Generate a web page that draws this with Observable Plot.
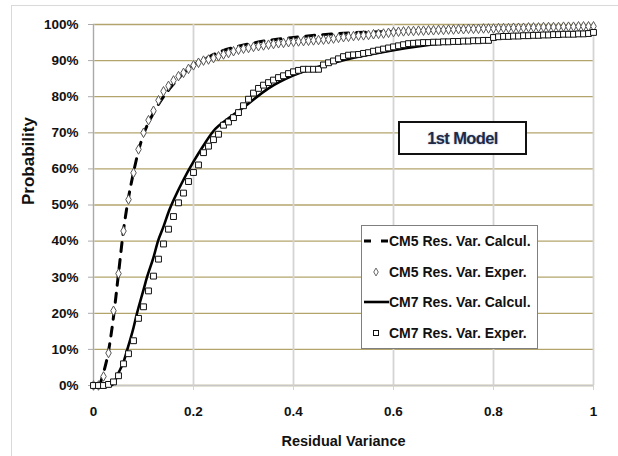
<!DOCTYPE html>
<html>
<head>
<meta charset="utf-8">
<script src="https://cdn.jsdelivr.net/npm/d3@7"></script>
<script src="https://cdn.jsdelivr.net/npm/@observablehq/plot@0.6"></script>
<style>
  html, body { margin: 0; padding: 0; background: #fff; }
  #wrap { position: relative; width: 618px; height: 456px; overflow: hidden; font-family: "Liberation Sans", Arial, sans-serif; }
  #frame { position: absolute; left: 11px; top: 5px; width: 640px; height: 500px; border: 1.5px solid #d9d9d9; pointer-events: none; }
  #model { position: absolute; left: 398px; top: 121px; width: 125px; height: 30px; border: 2.5px solid #111; background: #fff;
           font-weight: bold; font-size: 16.5px; color: #1d2a48; text-align: center; line-height: 30px; letter-spacing: -0.6px;
           text-shadow: 0 0 2px #a8b8d0; }
  #legend { position: absolute; left: 361px; top: 225px; }
</style>
</head>
<body>
<div id="wrap">
  <div id="chart"></div>
  <div id="model">1st Model</div>
  <div id="legend"></div>
  <div id="frame"></div>
</div>
<script>
// ---- data ----
const xTicks = [0, 0.2, 0.4, 0.6, 0.8, 1];
const yTicks = [0, 10, 20, 30, 40, 50, 60, 70, 80, 90, 100];
const seriesNames = ["CM5 Res. Var. Calcul.", "CM5 Res. Var. Exper.", "CM7 Res. Var. Calcul.", "CM7 Res. Var. Exper."];
const modelLabel = "1st Model";
const xLabel = "Residual Variance";
const yLabel = "Probability";

const expX = [0,0.01,0.02,0.03,0.04,0.05,0.06,0.07,0.08,0.09,
  0.10,0.11,0.12,0.13,0.14,0.15,0.16,0.17,0.18,0.19,
  0.20,0.21,0.22,0.23,0.24,0.25,0.26,0.27,0.28,0.29,
  0.30,0.31,0.32,0.33,0.34,0.35,0.36,0.37,0.38,0.39,
  0.40,0.41,0.42,0.43,0.44,0.45,0.46,0.47,0.48,0.49,
  0.50,0.51,0.52,0.53,0.54,0.55,0.56,0.57,0.58,0.59,
  0.60,0.61,0.62,0.63,0.64,0.65,0.66,0.67,0.68,0.69,
  0.70,0.71,0.72,0.73,0.74,0.75,0.76,0.77,0.78,0.79,
  0.80,0.81,0.82,0.83,0.84,0.85,0.86,0.87,0.88,0.89,
  0.90,0.91,0.92,0.93,0.94,0.95,0.96,0.97,0.98,0.99,
  1.00];

const cm5Exper = [0,0,2.5,9,20.7,31,42.8,51.5,58.9,65.4,
  70,73.5,76.1,79,81.5,83,84.5,85.7,86.6,87.7,
  88.7,89.4,90,90.3,90.7,91.2,91.7,92.1,92.6,93,
  93.3,93.5,93.8,94,94.2,94.4,94.6,94.8,94.9,95.1,
  95.2,95.3,95.4,95.5,95.6,95.7,95.8,95.9,96.1,96.3,
  96.5,96.6,96.8,96.9,97.0,97.1,97.3,97.4,97.5,97.7,
  97.9,98.0,98.1,98.2,98.2,98.3,98.3,98.4,98.4,98.5,
  98.5,98.6,98.6,98.7,98.7,98.8,98.8,98.8,98.9,98.9,
  98.9,99.0,99.0,99.0,99.1,99.1,99.1,99.2,99.2,99.2,
  99.3,99.3,99.3,99.3,99.4,99.4,99.4,99.5,99.5,99.5,
  99.5];

const cm7Exper = [0,0,0,0.3,1,2.7,6,8.8,12.4,18.6,
  21.8,26.2,30.3,35,39.2,43.3,46.8,50.6,53.3,56.5,
  59,61.1,64.5,66.3,68.1,69.6,72.1,73,74.2,75.6,
  77.5,79.3,81,82.3,83.2,83.9,84.6,85.3,85.8,86.4,
  86.9,87.3,87.6,87.6,87.6,87.6,88.8,89.4,89.9,90.5,
  91.1,91.5,91.6,91.7,92,92.2,92.6,92.9,93.2,93.5,
  93.8,94.1,94.4,94.7,94.8,94.9,95,95,95.1,95.1,
  95.2,95.2,95.3,95.3,95.4,95.4,95.5,95.5,95.6,95.6,
  96.4,96.6,96.7,96.7,96.8,96.8,96.9,96.9,97,97,
  97.1,97.1,97.2,97.2,97.3,97.3,97.3,97.4,97.4,97.5,
  97.8];

const cm5CalcX = [0.012,0.02,0.03,0.04,0.05,0.06,0.07,0.08,0.09,0.1,0.12,0.14,0.16,0.18,0.2,0.22,0.25,0.29,0.32,0.36,0.4,0.45,0.5,0.55,0.6,0.7,0.8,0.9,1.0];
const cm5CalcY = [0,3.5,9.5,19,31,43,52,59,65,69.5,75.5,80,83.5,86.5,88.8,90.2,92.3,94,94.9,95.8,96.4,97.1,97.6,97.9,98.1,98.6,99,99.3,99.5];

const cm7CalcX = [0.035,0.04,0.05,0.06,0.067,0.08,0.087,0.1,0.107,0.12,0.129,0.14,0.15,0.164,0.18,0.2,0.22,0.24,0.27,0.3,0.35,0.4,0.45,0.5,0.55,0.6,0.7,0.8,0.9,1.0];
const cm7CalcY = [0,0.5,3.5,6.5,9.7,16,20,26.5,30,35.5,40,44,48,52.5,57,62,66.5,70.5,74,77,82.3,85.9,88.3,90.1,91.6,92.9,94.9,96.2,97.1,97.7];

// ---- tables ----
const cm5Calc = cm5CalcX.map((x, i) => ({x, y: cm5CalcY[i]}));
const cm7Calc = cm7CalcX.map((x, i) => ({x, y: cm7CalcY[i]}));
const cm5Pts = expX.map((x, i) => ({x, y: cm5Exper[i]}));
const cm7Pts = expX.map((x, i) => ({x, y: cm7Exper[i]}));

const chart = Plot.plot({
  width: 618,
  height: 456,
  marginLeft: 93,
  marginRight: 25,
  marginTop: 24,
  marginBottom: 71,
  style: {fontFamily: '"Liberation Sans", Arial, sans-serif', fontWeight: "bold", fontSize: "13px", color: "#111", background: "transparent"},
  x: {domain: [0, 1]},
  y: {domain: [0, 100]},
  marks: [
    Plot.gridY(yTicks, {stroke: "#b3a46c", strokeOpacity: 1, strokeWidth: 1.3}),
    Plot.gridX(xTicks, {stroke: "#d4d4d4", strokeOpacity: 1, strokeWidth: 1.8}),
    Plot.ruleY([0], {stroke: "#c8c8c8", strokeWidth: 1.5}),
    Plot.ruleX([0], {stroke: "#aaaaaa", strokeWidth: 1}),
    Plot.axisY(yTicks, {tickSize: 5, tickPadding: 10, stroke: "#aaa", tickFormat: d => d + "%", label: null, fontSize: 13.5}),
    Plot.axisX(xTicks, {tickSize: 5, tickPadding: 16, stroke: "#d4d4d4", tickFormat: d => String(d), label: null, fontSize: 13.5}),
    Plot.text([xLabel], {frameAnchor: "bottom", dy: 60, fontSize: 14.5, fontWeight: "bold", fill: "#111"}),
    Plot.text([yLabel], {frameAnchor: "left", dx: -65, rotate: -90, fontSize: 17, fontWeight: "bold", fill: "#111"}),
    Plot.line(cm5Calc, {x: "x", y: "y", stroke: "#000", strokeWidth: 3, strokeDasharray: "9,8", curve: "monotone-x"}),
    Plot.dot(cm5Pts, {x: "x", y: "y", symbol: "diamond", r: 2.9, fill: "#fff", stroke: "#555", strokeWidth: 1}),
    Plot.line(cm7Calc, {x: "x", y: "y", stroke: "#000", strokeWidth: 2.6, curve: "monotone-x"}),
    Plot.dot(cm7Pts, {x: "x", y: "y", symbol: "square", r: 3.3, fill: "#fff", stroke: "#111", strokeWidth: 1})
  ]
});
document.getElementById("chart").appendChild(chart);

// ---- legend ----
const lg = d3.select("#legend").append("svg").attr("width", 178).attr("height", 126)
  .style("font-family", '"Liberation Sans", Arial, sans-serif').style("font-weight", "bold").style("font-size", "14px");
lg.append("rect").attr("x", 0.5).attr("y", 0.5).attr("width", 176).attr("height", 123).attr("fill", "#fff").attr("stroke", "#7f7f7f").attr("stroke-width", 1);
const rowY = [16, 47, 77, 108];
seriesNames.forEach((name, i) => {
  const g = lg.append("g").attr("transform", `translate(0,${rowY[i]})`);
  if (i === 0) g.append("line").attr("x1", 3).attr("x2", 27).attr("stroke", "#000").attr("stroke-width", 3).attr("stroke-dasharray", "7,10");
  if (i === 2) g.append("line").attr("x1", 3).attr("x2", 28).attr("stroke", "#000").attr("stroke-width", 2.6);
  if (i === 1) g.append("path").attr("d", d3.symbol(d3.symbolDiamond, 18)()).attr("transform", "translate(15,0)").attr("fill", "#fff").attr("stroke", "#666");
  if (i === 3) g.append("rect").attr("x", 12.5).attr("y", -2.5).attr("width", 5).attr("height", 5).attr("fill", "#fff").attr("stroke", "#111");
  g.append("text").attr("x", 28).attr("dy", "0.35em").attr("fill", "#111").text(name);
});
</script>
</body>
</html>
